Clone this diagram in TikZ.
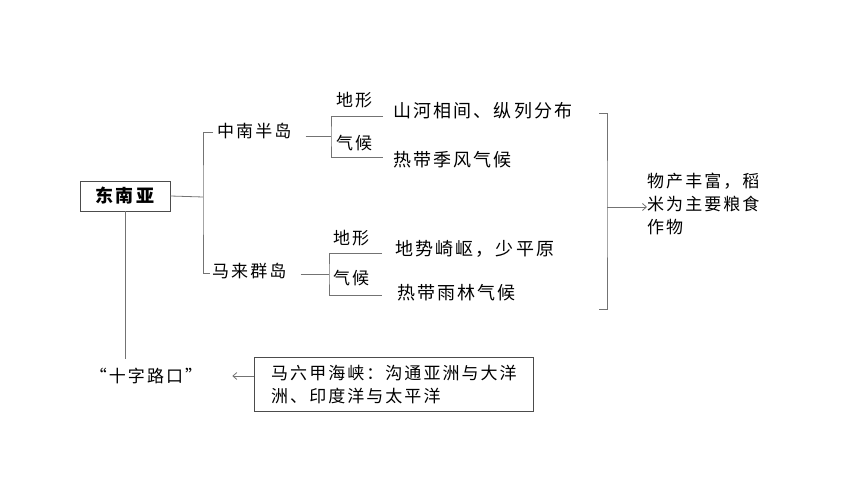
\documentclass[tikz,border=0pt]{standalone}
\usepackage{fontspec}
\setmainfont{Noto Sans CJK SC}[LetterSpace=12]
\usetikzlibrary{calc}
\usetikzlibrary{positioning}
\usetikzlibrary{arrows.meta}
\tikzstyle{boxnode} = [draw=black!70, line width=0.9pt, inner sep=0pt]
\tikzstyle{txtnode} = [inner sep=0pt, anchor=west, font=\fontsize{17}{23}\selectfont]
\tikzstyle{descnode} = [inner sep=0pt, anchor=west, font=\fontsize{18}{23}\selectfont]
\tikzstyle{link} = [draw=black!55, line width=0.8pt]
\tikzstyle{pointer} = [link, -{Straight Barb[length=4pt, width=7pt]}]

\begin{document}
\begin{tikzpicture}[x=1pt, y=-1pt]
    \useasboundingbox (0,0) rectangle (860,484);
    \node[boxnode, minimum width=90pt, minimum height=30pt, font=\fontsize{18}{22}\selectfont\bfseries] (sea) at (125,196) {东南亚};
    \node[txtnode] (indo) at (217,131) {中南半岛};
    \node[txtnode] (malay) at (212,271) {马来群岛};
    \coordinate (fork) at (203,197);
    \draw[link] (sea.east) -- (fork);
    \draw[link] ($(indo.west)+(-4,1)$) -| (fork) |- ($(malay.west)+(-2,2)$);
    % Indochina peninsula
    \node[txtnode] (indo_tlabel) at (336,100) {地形};
    \node[txtnode] (indo_clabel) at (336,143) {气候};
    \node[descnode] (indo_t) at (393,111) {山河相间、纵列分布};
    \node[descnode] (indo_c) at (393,160) {热带季风气候};
    \coordinate (indo_fork) at (331,136);
    \draw[link] ($(indo.east)+(14,5)$) -- (indo_fork);
    \draw[link] ($(indo_t.west)+(-10,5)$) -| (indo_fork) |- ($(indo_c.west)+(-10,-3)$);
    % Malay archipelago
    \node[txtnode] (malay_tlabel) at (333,238) {地形};
    \node[txtnode] (malay_clabel) at (333,278) {气候};
    \node[descnode] (malay_t) at (395,249) {地势崎岖，少平原};
    \node[descnode] (malay_c) at (397,293) {热带雨林气候};
    \coordinate (malay_fork) at (329,274);
    \draw[link] ($(malay.east)+(14,3)$) -- (malay_fork);
    \draw[link] ($(malay_t.west)+(-13,4)$) -| (malay_fork) |- ($(malay_c.west)+(-15,2)$);
    % products
    \coordinate (br_top) at (599,113);
    \coordinate (br_bot) at (599,309);
    \coordinate (br_mid) at (607,207);
    \node[txtnode, align=left] (result) at (647,204) {物产丰富，稻\\米为主要粮食\\作物};
    \draw[link] (br_top) -| (br_mid) |- (br_bot);
    \draw[pointer] (br_mid) -- (br_mid -| result.west);
    % crossroads
    \node[txtnode, anchor=center] (cross) at (146,376) {“十字路口”};
    \draw[link] (sea.south) -- ($(sea.south |- cross.north)+(0,-9)$);
    \node[boxnode, anchor=north west, minimum width=279pt, minimum height=54pt, align=left, inner xsep=8pt,
font=\fontsize{17}{23}\selectfont] (strait) at (254,357)
{马六甲海峡：沟通亚洲与大洋\\洲、印度洋与太平洋\hspace*{4em}};
    \draw[pointer] (strait.west |- cross) -- ($(cross.east)+(30,0)$);
\end{tikzpicture}
\end{document}
